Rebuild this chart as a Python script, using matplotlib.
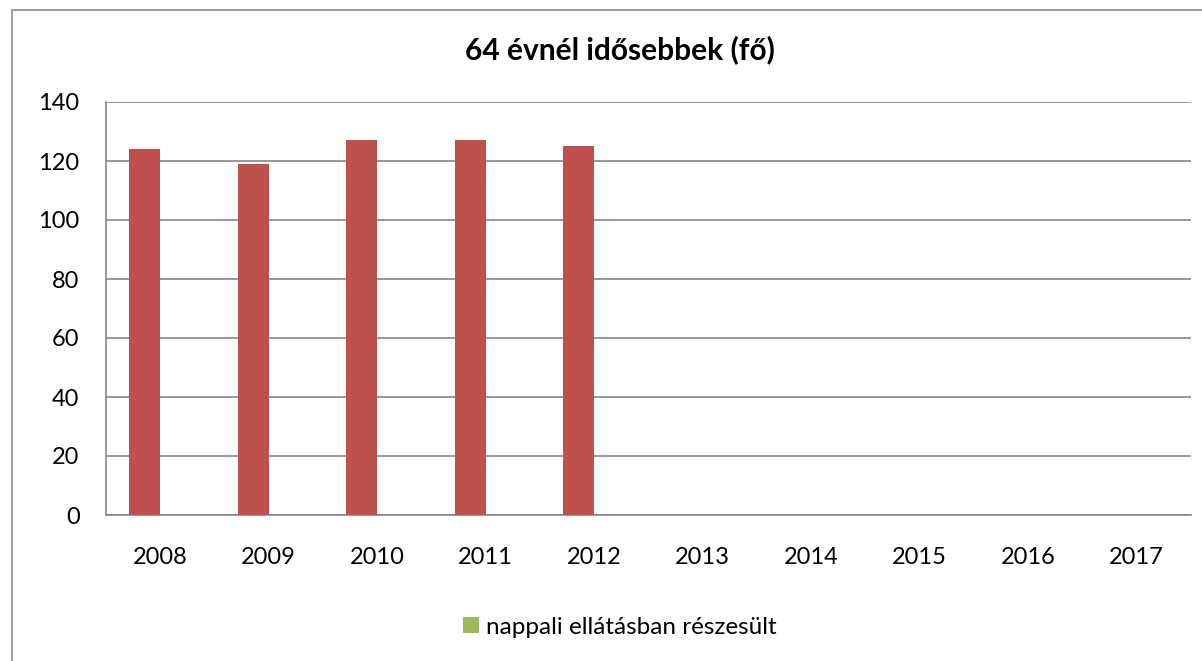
import numpy as np
import matplotlib.pyplot as plt
from matplotlib.patches import Patch, Rectangle

plt.rcParams['font.family'] = ['Lato', 'DejaVu Sans']

years = ['2008', '2009', '2010', '2011', '2012', '2013', '2014', '2015', '2016', '2017']
values = [124, 119, 127, 127, 125, 0, 0, 0, 0, 0]
# second series of the original sheet is empty, it only shows in the legend
values_green = [0, 0, 0, 0, 0, 0, 0, 0, 0, 0]
title = '64 évnél idősebbek (fő)'
legend_label = 'nappali ellátásban részesült'

bar_color = '#c0504d'
legend_color = '#9bbb59'
grid_color = '#868686'

fig = plt.figure(figsize=(12.02, 6.61), dpi=100)
ax = fig.add_axes([106 / 1202, 1 - 515 / 661, (1191 - 106) / 1202, (515 - 102) / 661])

# outer chart border, runs off the right and bottom of the picture
fig.patches.append(Rectangle((12 / 1202, -0.1), 1.2, 1 - 10 / 661 + 0.1,
                             transform=fig.transFigure, fill=False,
                             edgecolor='#a0a0a0', linewidth=1.5, clip_on=False))

x = np.arange(len(years))
w = 0.285
ax.bar(x - w / 2, values, width=w, color=bar_color, zorder=3)
ax.bar(x + w / 2, values_green, width=w, color=legend_color, zorder=3)

ax.set_xlim(-0.5, len(years) - 0.5)
ax.set_ylim(0, 140)
ax.set_yticks(range(0, 141, 20))
ax.set_xticks(x)
ax.set_xticklabels(years)
ax.tick_params(axis='both', length=0, labelsize=17, colors='black')
ax.tick_params(axis='x', pad=23)
ax.tick_params(axis='y', pad=19)

ax.yaxis.grid(True, color=grid_color, linewidth=1.2, zorder=0)
ax.spines['top'].set_visible(False)
ax.spines['right'].set_visible(False)
ax.spines['left'].set_color(grid_color)
ax.spines['bottom'].set_color(grid_color)
ax.spines['left'].set_linewidth(1.2)
ax.spines['bottom'].set_linewidth(1.2)

fig.text(620 / 1202, 1 - 50 / 661, title, ha='center', va='center',
         fontsize=21.5, fontweight='bold')

handles = [Patch(facecolor=legend_color, label=legend_label)]
fig.legend(handles=handles, loc='center', bbox_to_anchor=(620 / 1202, 1 - 627 / 661),
           frameon=False, fontsize=17.5, handlelength=0.65, handleheight=0.65,
           handletextpad=0.3)

fig.savefig('out.png', dpi=100)
